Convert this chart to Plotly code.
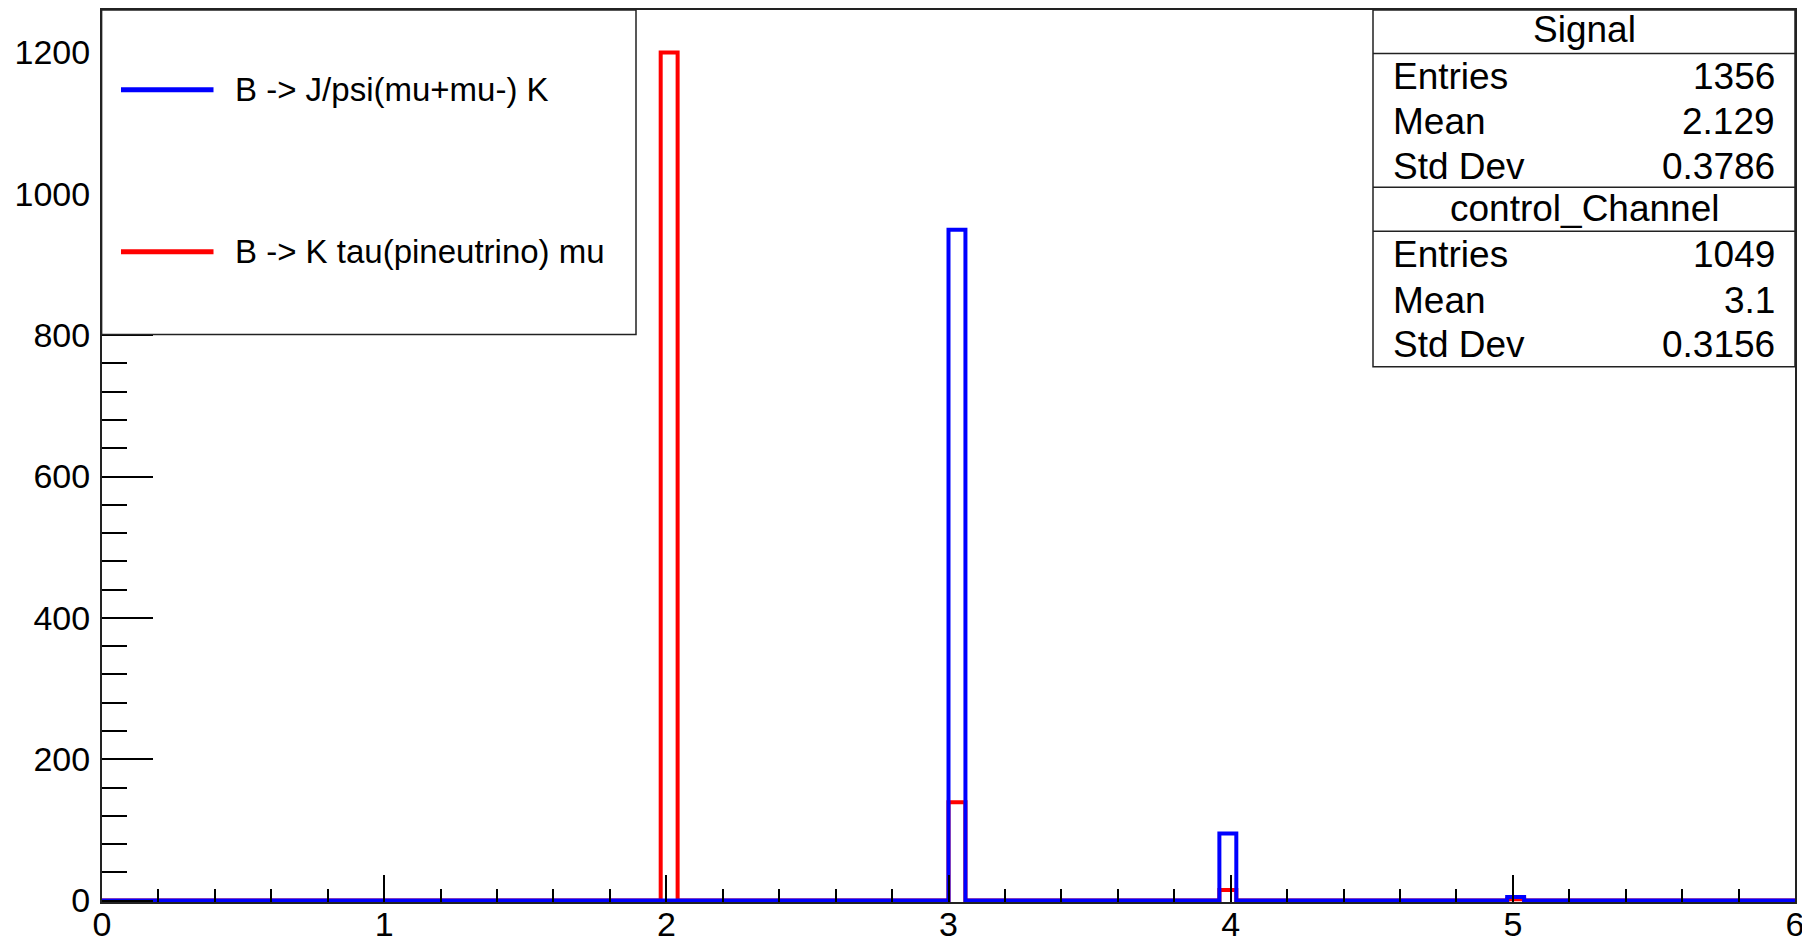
import numpy as np
import plotly.graph_objects as go

# ---------------- data ----------------
x_min, x_max, n_bins = 0.0, 6.0, 100
signal_values = [2, 3, 4, 5]
signal_counts = [1200, 139, 15, 2]
control_values = [3, 4, 5]
control_counts = [949, 95, 5]

signal_name = "Signal"
control_name = "control_Channel"
legend_labels = ["B -> J/psi(mu+mu-) K", "B -> K tau(pineutrino) mu"]
y_ticks = [0, 200, 400, 600, 800, 1000, 1200]
x_ticks = [0, 1, 2, 3, 4, 5, 6]

# ---------------- figure geometry (page pixels) ----------------
W, H = 1810, 940
OFF = 8  # default body margin of the html page
PL, PR, PT, PB = 102, 1795, 10.4, 902  # plot frame in page pixels
ML, MT = PL - OFF, PT - OFF
MR, MB = W - (PR - OFF), H - (PB - OFF)
PW, PH = PR - PL, PB - PT


def px(x):
    return (x - PL) / PW


def py(y):
    return (PB - y) / PH


edges = np.linspace(x_min, x_max, n_bins + 1)


def step(values, counts):
    h, _ = np.histogram(values, bins=edges, weights=counts)
    return edges, np.append(h, h[-1])


def stats(values, counts):
    v = np.array(values, float)
    c = np.array(counts, float)
    n = c.sum()
    m = (v * c).sum() / n
    s = np.sqrt((c * (v - m) ** 2).sum() / n)
    return int(n), f"{m:.4g}", f"{s:.4g}"


RED = "rgb(255,0,0)"
BLUE = "rgb(0,0,255)"
FONT = "Liberation Sans, Arial, sans-serif"

fig = go.Figure()
sx, sy = step(signal_values, signal_counts)
cx, cy = step(control_values, control_counts)
fig.add_trace(go.Scatter(x=sx, y=sy, mode="lines", line=dict(color=RED, width=4, shape="hv"),
                         name=legend_labels[1], showlegend=False, hoverinfo="skip"))
fig.add_trace(go.Scatter(x=cx, y=cy, mode="lines", line=dict(color=BLUE, width=4, shape="hv"),
                         name=legend_labels[0], showlegend=False, hoverinfo="skip"))

fig.update_layout(
    width=W, height=H,
    margin=dict(l=ML, r=MR, t=MT, b=MB, autoexpand=False),
    paper_bgcolor="white", plot_bgcolor="white",
    font=dict(family=FONT, size=34, color="black"),
    showlegend=False,
)
fig.update_xaxes(range=[x_min, x_max], tickvals=x_ticks, ticks="inside", ticklen=27,
                 tickwidth=1.5, tickcolor="black", showgrid=False, zeroline=False,
                 showline=True, linecolor="#222", linewidth=2, mirror=True, automargin=False,
                 minor=dict(dtick=0.2, tick0=0, ticks="inside", ticklen=13, tickwidth=1.5,
                            tickcolor="black", showgrid=False),
                 tickfont=dict(size=34), ticklabelstandoff=-9)
fig.update_yaxes(range=[-2, 1260], tickvals=y_ticks, ticks="inside", ticklen=51,
                 tickwidth=1.5, tickcolor="black", showgrid=False, zeroline=False,
                 showline=True, linecolor="#222", linewidth=2, mirror=True, automargin=False,
                 minor=dict(dtick=40, tick0=0, ticks="inside", ticklen=25, tickwidth=1.5,
                            tickcolor="black", showgrid=False),
                 tickfont=dict(size=34), ticklabelstandoff=3)

shapes = []
annots = []

# legend box
shapes.append(dict(type="rect", xref="paper", yref="paper", x0=px(101.6), x1=px(636),
                   y0=py(10.4), y1=py(334.7), fillcolor="white",
                   line=dict(color="#222", width=1.5), layer="above"))
for yy, col, lab in [(90, BLUE, legend_labels[0]), (252, RED, legend_labels[1])]:
    shapes.append(dict(type="line", xref="paper", yref="paper", x0=px(121), x1=px(213.5),
                       y0=py(yy), y1=py(yy), line=dict(color=col, width=5), layer="above"))
    annots.append(dict(xref="paper", yref="paper", x=px(233), y=py(yy), text=lab,
                       showarrow=False, xanchor="left", yanchor="middle",
                       font=dict(size=33, family=FONT, color="black")))

# stats box
bx0, bx1, by0, by1 = 1373, 1795, 10.4, 367
shapes.append(dict(type="rect", xref="paper", yref="paper", x0=px(bx0), x1=px(bx1),
                   y0=py(by0), y1=py(by1), fillcolor="white",
                   line=dict(color="#222", width=1.5), layer="above"))
for yy in [54, 187.5, 231.5]:
    shapes.append(dict(type="line", xref="paper", yref="paper", x0=px(bx0), x1=px(bx1),
                       y0=py(yy), y1=py(yy), line=dict(color="#222", width=1.5), layer="above"))

s_n, s_m, s_s = stats(signal_values, signal_counts)
c_n, c_m, c_s = stats(control_values, control_counts)
rows = [
    (30, signal_name, None),
    (77, "Entries", str(s_n)), (122, "Mean", s_m), (167, "Std Dev", s_s),
    (209, control_name, None),
    (255, "Entries", str(c_n)), (301, "Mean", c_m), (345, "Std Dev", c_s),
]
SF = 37
for yy, lab, val in rows:
    if val is None:
        annots.append(dict(xref="paper", yref="paper", x=px((bx0 + bx1) / 2), y=py(yy), text=lab,
                           showarrow=False, xanchor="center", yanchor="middle",
                           font=dict(size=SF, family=FONT, color="black")))
    else:
        annots.append(dict(xref="paper", yref="paper", x=px(1391), y=py(yy), text=lab,
                           showarrow=False, xanchor="left", yanchor="middle",
                           font=dict(size=SF, family=FONT, color="black")))
        annots.append(dict(xref="paper", yref="paper", x=px(1777), y=py(yy), text=val,
                           showarrow=False, xanchor="right", yanchor="middle",
                           font=dict(size=SF, family=FONT, color="black")))

fig.update_layout(shapes=shapes, annotations=annots)
fig.write_html("out.html")
